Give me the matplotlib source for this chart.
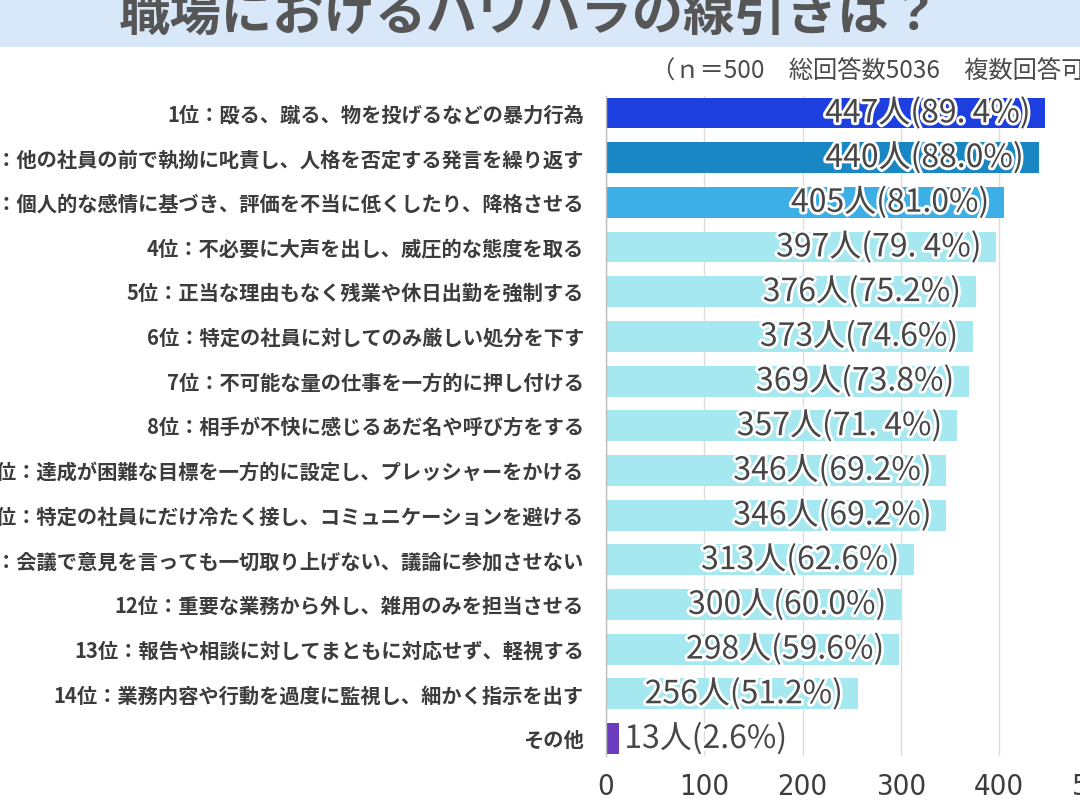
import matplotlib
matplotlib.use("Agg")
import matplotlib.pyplot as plt
import matplotlib.patheffects as pe
from matplotlib.patches import Rectangle

plt.rcParams['font.family'] = ['Noto Sans CJK JP', 'DejaVu Sans']

categories = [
    "1位：殴る、蹴る、物を投げるなどの暴力行為",
    "2位：他の社員の前で執拗に叱責し、人格を否定する発言を繰り返す",
    "3位：個人的な感情に基づき、評価を不当に低くしたり、降格させる",
    "4位：不必要に大声を出し、威圧的な態度を取る",
    "5位：正当な理由もなく残業や休日出勤を強制する",
    "6位：特定の社員に対してのみ厳しい処分を下す",
    "7位：不可能な量の仕事を一方的に押し付ける",
    "8位：相手が不快に感じるあだ名や呼び方をする",
    "9位：達成が困難な目標を一方的に設定し、プレッシャーをかける",
    "9位：特定の社員にだけ冷たく接し、コミュニケーションを避ける",
    "11位：会議で意見を言っても一切取り上げない、議論に参加させない",
    "12位：重要な業務から外し、雑用のみを担当させる",
    "13位：報告や相談に対してまともに対応せず、軽視する",
    "14位：業務内容や行動を過度に監視し、細かく指示を出す",
    "その他",
]
counts = [447, 440, 405, 397, 376, 373, 369, 357, 346, 346, 313, 300, 298, 256, 13]
pct_labels = ["89. 4", "88.0", "81.0", "79. 4", "75.2", "74.6", "73.8", "71. 4",
              "69.2", "69.2", "62.6", "60.0", "59.6", "51.2", "2.6"]
bar_colors = ["#1e3fe0", "#1987c3", "#3cafe6"] + ["#a6e8f0"] * 11 + ["#6a3dbf"]
x_ticks = [0, 100, 200, 300, 400, 500]

title = "職場におけるパワハラの線引きは？"
subtitle = "（ｎ＝500　総回答数5036　複数回答可）"

W, H = 1080, 810
fig = plt.figure(figsize=(W / 100, H / 100), dpi=100)
fig.patch.set_facecolor("white")

# title band
fig.patches.append(Rectangle((0, 1 - 47 / H), 1, 47 / H, transform=fig.transFigure,
                             facecolor="#d9e8f8", edgecolor="none", zorder=0))
fig.text(530 / W, 1 - 31 / H, title, ha="center", va="baseline", fontsize=37,
         fontweight="bold", color="#565656")
fig.text(651 / W, 1 - 71 / H, subtitle, ha="left", va="center", fontsize=17.5,
         color="#4a4a4a")

left = 606 / W
right_px = 1097.5
top_px, bot_px = 96, 756
ax = fig.add_axes([left, 1 - bot_px / H, (right_px - 606) / W, (bot_px - top_px) / H])

y = list(range(len(categories)))
ax.barh(y, counts, height=0.69, color=bar_colors, zorder=2)
ax.set_xlim(0, 500)
ax.set_ylim(14.39, -0.38)

ax.set_yticks(y)
ax.set_yticklabels(categories, fontsize=14.6, fontweight="bold", color="#3c3c3c")
ax.tick_params(axis="y", length=0, pad=16)

ax.set_xticks(x_ticks)
ax.set_xticklabels([str(t) for t in x_ticks], fontsize=21, color="#3c3c3c",
                   family=["DejaVu Sans"], fontstretch="condensed")
ax.tick_params(axis="x", length=0, pad=12)

ax.grid(axis="x", color="#dcdcdc", linewidth=1, zorder=0)
for s in ["top", "right", "bottom"]:
    ax.spines[s].set_visible(False)
ax.spines["left"].set_color("#bdbdbd")
ax.spines["left"].set_linewidth(1)

stroke = [pe.withStroke(linewidth=4, foreground="white")]
for i, (c, p) in enumerate(zip(counts, pct_labels)):
    label = f"{c}人({p}%)"
    if c > 50:
        ax.annotate(label, (c, i), xytext=(-10.5, 0), textcoords="offset points",
                    ha="right", va="center", fontsize=23, color="#474747",
                    path_effects=stroke, zorder=3)
    else:
        ax.annotate(label, (c, i), xytext=(4, 0), textcoords="offset points",
                    ha="left", va="center", fontsize=23, color="#474747",
                    path_effects=stroke, zorder=3)

fig.savefig("out.png", dpi=100)
